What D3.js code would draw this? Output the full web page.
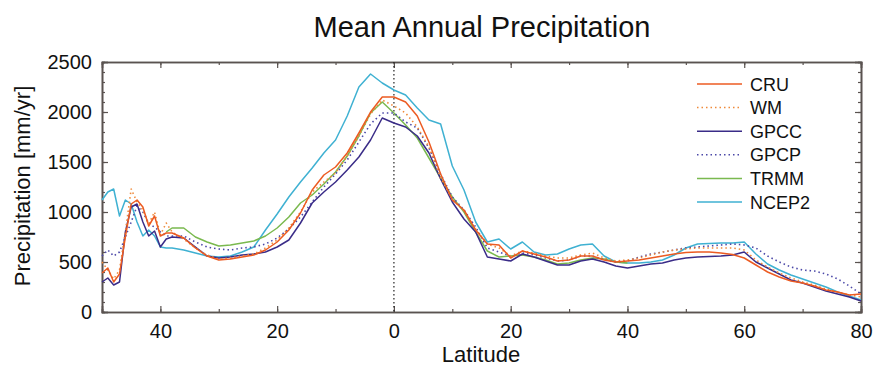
<!DOCTYPE html>
<html>
<head>
<meta charset="utf-8">
<script src="https://cdn.jsdelivr.net/npm/d3@7"></script>
<style>
  body { margin: 0; background: #fff; }
  svg { font-family: "Liberation Sans", Arial, Helvetica, sans-serif; }
</style>
</head>
<body>
<div class="result"></div>
<script>
// Latitude grid (negative = south)
const lat = [-50, -49, -48, -47, -46, -45, -44, -43, -42, -41, -40, -39, -38,
  -36, -34, -32, -30, -28, -26, -24, -22, -20, -18, -16, -14, -12, -10, -8, -6, -4, -2,
  0, 2, 4, 6, 8, 10, 12, 14, 16, 18, 20, 22, 24, 26, 28, 30, 32, 34, 36, 38,
  40, 42, 44, 46, 48, 50, 52, 54, 56, 58, 60, 62, 64, 66, 68, 70, 72, 74, 76, 78, 80];

// Precipitation in mm/yr
const cru = [390, 440, 300, 380, 750, 1080, 1120, 1050, 860, 960, 760, 790, 790,
  740, 640, 560, 520, 530, 550, 570, 620, 700, 820, 990, 1220, 1370, 1450, 1590, 1790, 2000, 2150,
  2150, 2100, 1960, 1700, 1380, 1120, 1020, 820, 680, 670, 540, 610, 580, 550, 510, 520, 560, 560, 520, 500,
  510, 520, 540, 560, 580, 595, 600, 600, 590, 575, 540, 470, 400, 350, 310, 290, 260, 220, 200, 170, 180];

const wm = [500, 420, 330, 420, 800, 1230, 1100, 1020, 880, 1000, 770, 890, 800,
  730, 640, 570, 530, 540, 560, 580, 640, 720, 840, 1000, 1200, 1300, 1390, 1560, 1760, 1980, 2120,
  2060, 1990, 1850, 1650, 1340, 1130, 1010, 830, 680, 640, 560, 610, 590, 560, 540, 540, 570, 590, 540, 510,
  520, 540, 570, 600, 620, 630, 640, 640, 640, 640, 620, 520, 450, 390, 340, 300, 270, 230, 200, 170, 150];

const gpcc = [300, 340, 270, 300, 800, 1050, 1080, 900, 760, 810, 650, 730, 750,
  740, 650, 560, 540, 550, 570, 580, 600, 650, 720, 890, 1090, 1200, 1300, 1420, 1550, 1720, 1940,
  1890, 1850, 1760, 1590, 1330, 1100, 930, 800, 550, 530, 510, 580, 550, 510, 470, 470, 510, 530, 500, 460,
  440, 460, 480, 490, 520, 540, 550, 555, 560, 570, 600, 500, 440, 380, 320, 290, 250, 210, 180, 150, 110];

const gpcp = [560, 620, 560, 600, 750, 900, 1060, 1000, 880, 850, 800, 760, 760,
  760, 700, 650, 630, 620, 640, 650, 680, 740, 830, 950, 1100, 1250, 1380, 1520, 1700, 1880, 1990,
  1990, 1900, 1840, 1640, 1380, 1150, 1020, 850, 640, 600, 560, 590, 570, 540, 510, 520, 560, 560, 520, 500,
  510, 550, 580, 600, 620, 640, 650, 660, 670, 680, 670, 640, 560, 500, 450, 420, 410, 380, 330, 260, 180];

// TRMM only covers the tropics and subtropics
const trmm = [null, null, null, null, null, null, null, null, null, null, null, 800, 840,
  840, 750, 700, 660, 670, 690, 710, 760, 840, 950, 1090, 1170, 1280, 1400, 1560, 1760, 1990, 2100,
  1990, 1870, 1740, 1540, 1340, 1150, 1000, 800, 610, 550, 560, 570, 550, 520, 480, 490, 520, 540, 530, 500,
  490, null, null, null, null, null, null, null, null, null, null, null, null, null, null, null, null, null, null, null, null];

const ncep2 = [1120, 1200, 1230, 960, 1120, 1080, 900, 760, 820, 760, 650, 640, 640,
  620, 590, 560, 550, 560, 600, 650, 820, 980, 1150, 1300, 1440, 1590, 1720, 1960, 2250, 2380, 2290,
  2220, 2170, 2040, 1920, 1880, 1460, 1220, 900, 700, 730, 630, 700, 600, 570, 580, 630, 670, 680, 560, 500,
  490, 490, 500, 520, 570, 640, 680, 685, 690, 690, 700, 580, 480, 420, 370, 330, 290, 250, 200, 160, 120];

const seriesNames = ['CRU', 'WM', 'GPCC', 'GPCP', 'TRMM', 'NCEP2'];
const seriesValues = [cru, wm, gpcc, gpcp, trmm, ncep2];
const seriesColors = ['#ec5b22', '#ef8a3a', '#3a2c88', '#4b48a8', '#7ab94f', '#3fb1d2'];
const seriesDashed = [false, true, false, true, false, false];

const xTicks = [-40, -20, 0, 20, 40, 60, 80];
const yTicks = [0, 500, 1000, 1500, 2000, 2500];

// Width and height
const w = 873;
const h = 366;
const mLeft = 102, mRight = 861, mTop = 62, mBottom = 312;

const xScale = d3.scaleLinear().domain([-50, 80]).range([mLeft, mRight]);
const yScale = d3.scaleLinear().domain([0, 2500]).range([mBottom, mTop]);

const svg = d3.select('.result')
  .append('svg')
  .attr('width', w)
  .attr('height', h);

const axisColor = '#5a5350';

// Title
svg.append('text')
  .attr('x', 482)
  .attr('y', 37)
  .attr('text-anchor', 'middle')
  .attr('font-size', 29)
  .attr('fill', '#111')
  .text('Mean Annual Precipitation');

// Axes (ticks inward on all four sides)
const xAxis = d3.axisBottom(xScale).tickValues(xTicks).tickSize(-6).tickPadding(12)
  .tickFormat(d => Math.abs(d));
const xMinor = d3.axisBottom(xScale).tickValues(d3.range(-50, 81, 10)).tickSize(-3).tickFormat('');
const yAxis = d3.axisLeft(yScale).tickValues(yTicks).tickSize(-6).tickPadding(10)
  .tickFormat(d3.format('d'));
const yMinor = d3.axisLeft(yScale).tickValues(d3.range(0, 2501, 100)).tickSize(-3).tickFormat('');

svg.append('g').attr('class', 'x axis')
  .attr('transform', 'translate(0,' + mBottom + ')').call(xMinor);
svg.append('g').attr('class', 'x axis')
  .attr('transform', 'translate(0,' + mBottom + ')').call(xAxis);
svg.append('g').attr('class', 'x axis')
  .attr('transform', 'translate(0,' + mTop + ')')
  .call(d3.axisTop(xScale).tickValues(d3.range(-50, 81, 10)).tickSize(-3).tickFormat(''));
svg.append('g').attr('class', 'x axis')
  .attr('transform', 'translate(0,' + mTop + ')')
  .call(d3.axisTop(xScale).tickValues(xTicks).tickSize(-6).tickFormat(''));

svg.append('g').attr('class', 'y axis')
  .attr('transform', 'translate(' + mLeft + ',0)').call(yMinor);
svg.append('g').attr('class', 'y axis')
  .attr('transform', 'translate(' + mLeft + ',0)').call(yAxis);
svg.append('g').attr('class', 'y axis')
  .attr('transform', 'translate(' + mRight + ',0)')
  .call(d3.axisRight(yScale).tickValues(d3.range(0, 2501, 100)).tickSize(-3).tickFormat(''));
svg.append('g').attr('class', 'y axis')
  .attr('transform', 'translate(' + mRight + ',0)')
  .call(d3.axisRight(yScale).tickValues(yTicks).tickSize(-6).tickFormat(''));

svg.selectAll('.axis path').attr('stroke', axisColor).attr('stroke-width', 1.6);
svg.selectAll('.axis line').attr('stroke', axisColor).attr('stroke-width', 1.2);
svg.selectAll('.axis text').attr('font-size', 20).attr('fill', '#111')
  .attr('font-family', '"Liberation Sans", Arial, sans-serif');

// Equator marker
svg.append('line')
  .attr('x1', xScale(0)).attr('x2', xScale(0))
  .attr('y1', mTop).attr('y2', mBottom)
  .attr('stroke', '#222')
  .attr('stroke-width', 1.2)
  .attr('stroke-dasharray', '1.5,2.5');

// Lines
const line = d3.line()
  .defined(d => d[1] !== null)
  .x(d => xScale(d[0]))
  .y(d => yScale(d[1]));

const drawOrder = [5, 4, 3, 2, 1, 0];
drawOrder.forEach(function (i) {
  svg.append('path')
    .datum(lat.map((l, j) => [l, seriesValues[i][j]]))
    .attr('fill', 'none')
    .attr('stroke', seriesColors[i])
    .attr('stroke-width', seriesDashed[i] ? 1.6 : 1.5)
    .attr('stroke-dasharray', seriesDashed[i] ? '1.5,3' : null)
    .attr('stroke-linejoin', 'round')
    .attr('d', line);
});

// Legend
const legend = svg.append('g').attr('transform', 'translate(697,84)');
seriesNames.forEach(function (name, i) {
  const g = legend.append('g').attr('transform', 'translate(0,' + (i * 23.6) + ')');
  g.append('line')
    .attr('x1', 0).attr('x2', 45)
    .attr('stroke', seriesColors[i])
    .attr('stroke-width', 1.5)
    .attr('stroke-dasharray', seriesDashed[i] ? '1.5,3' : null);
  g.append('text')
    .attr('x', 53)
    .attr('y', 6.5)
    .attr('font-size', 18)
    .attr('fill', '#111')
    .text(name);
});

// Axis labels
svg.append('text')
  .attr('x', 481)
  .attr('y', 362)
  .attr('text-anchor', 'middle')
  .attr('font-size', 22)
  .attr('fill', '#111')
  .text('Latitude');

svg.append('text')
  .attr('transform', 'translate(30,186) rotate(-90)')
  .attr('text-anchor', 'middle')
  .attr('font-size', 22)
  .attr('fill', '#111')
  .text('Precipitation [mm/yr]');
</script>
</body>
</html>
